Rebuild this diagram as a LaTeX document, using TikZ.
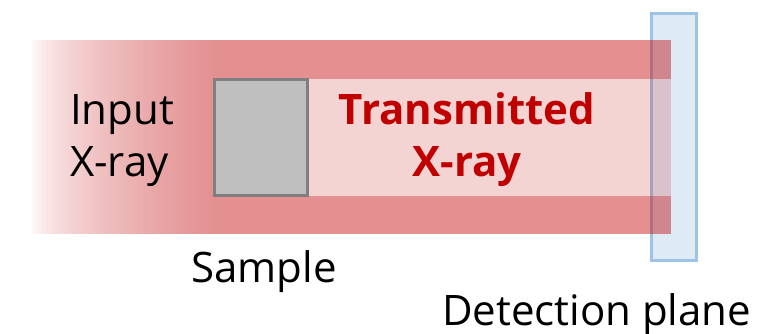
\documentclass[tikz,border=0pt]{standalone}
\usepackage{fontspec}
\setmainfont{Open Sans}
\definecolor{beamred}{RGB}{195,9,11}
\definecolor{txtred}{RGB}{192,0,0}
\definecolor{planefill}{RGB}{222,235,247}
\definecolor{planeline}{RGB}{157,195,230}
\definecolor{samplefill}{RGB}{191,191,191}
\definecolor{sampleline}{RGB}{127,127,127}
\tikzset{
  lbl/.style={font=\fontsize{42}{52}\selectfont, inner sep=0pt, align=center},
  bar/.style={fill=beamred, fill opacity=0.45},
  inner/.style={fill=beamred, fill opacity=0.18},
}
\begin{document}
\begin{tikzpicture}[x=1pt,y=-1pt]
\useasboundingbox (0,0) rectangle (777,334);
% detection plane
\draw[fill=planefill, draw=planeline, line width=3pt] (651.5,13.5) rectangle (696.5,260.5);
% left part of beam with fade-in
\foreach \i in {0,...,59}{
  \pgfmathsetmacro{\xa}{32+3*\i}
  \pgfmathsetmacro{\xb}{\xa+3}
  \pgfmathsetmacro{\op}{0.45*((\i+0.5)/60)^0.6}
  \fill[beamred, fill opacity=\op] (\xa,40) rectangle (\xb,234);
}
\fill[bar] (212,40) rectangle (308,234);
% right part of beam
\fill[bar] (308,40) rectangle (670.5,79);
\fill[bar] (308,196) rectangle (670.5,234);
\fill[inner] (308,79) rectangle (670.5,196);
% sample
\draw[fill=samplefill, draw=sampleline, line width=3pt] (214.5,79.5) rectangle (307.5,195.5);
% labels
\node[lbl, align=left, anchor=base west] (input) at (70,177) {Input\\X-ray};
\node[lbl, font=\fontsize{42}{52}\selectfont\bfseries, text=txtred, anchor=base] (trans) at (467,177) {Transmitted\\X-ray};
\node[lbl, anchor=base west] (sample) at (191,282) {Sample};
\node[lbl, anchor=base west] (det) at (442,325) {Detection plane};
\end{tikzpicture}
\end{document}
